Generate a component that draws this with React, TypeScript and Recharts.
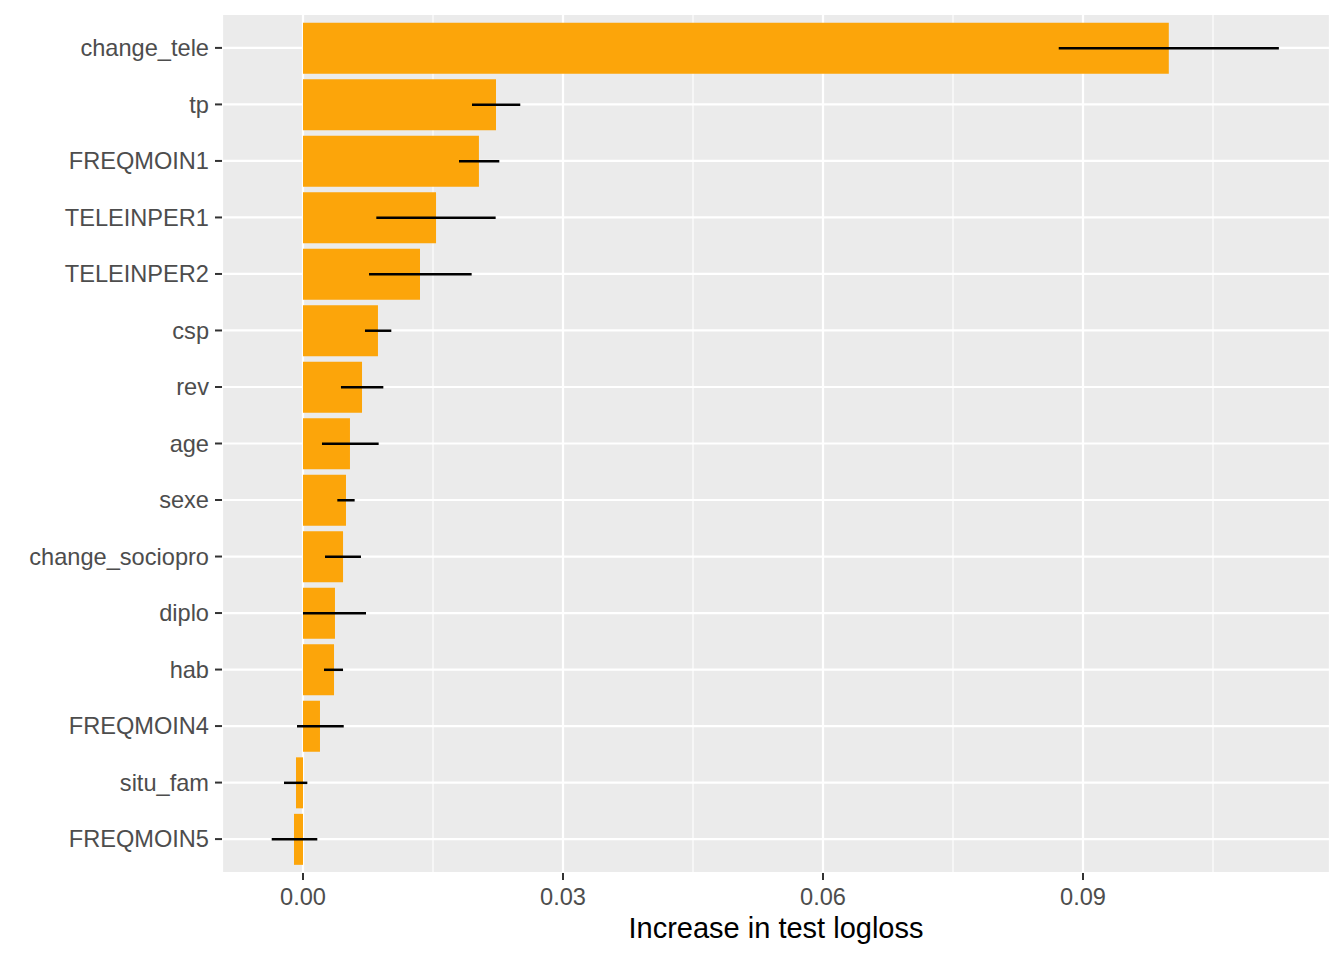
import {
  Bar,
  BarChart,
  CartesianGrid,
  ErrorBar,
  XAxis,
  YAxis,
} from "recharts";

const features = [
  "change_tele",
  "tp",
  "FREQMOIN1",
  "TELEINPER1",
  "TELEINPER2",
  "csp",
  "rev",
  "age",
  "sexe",
  "change_sociopro",
  "diplo",
  "hab",
  "FREQMOIN4",
  "situ_fam",
  "FREQMOIN5",
];
const importance = [
  0.0999, 0.02227, 0.0203, 0.01535, 0.0135, 0.00865, 0.00681, 0.00542, 0.00496,
  0.00462, 0.00369, 0.00358, 0.00196, -0.00081, -0.00104,
];
const lower = [
  0.0872, 0.0195, 0.018, 0.00846, 0.00762, 0.00715, 0.00438, 0.00219, 0.00396,
  0.00254, 0.0, 0.00242, -0.00069, -0.00219, -0.00361,
];
const upper = [
  0.1126, 0.02507, 0.02265, 0.02223, 0.01946, 0.01019, 0.00927, 0.00873, 0.00596,
  0.00669, 0.00727, 0.00462, 0.0047, 0.0005, 0.00165,
];
const majorTicks = [0, 0.03, 0.06, 0.09];
const minorTicks = [0.015, 0.045, 0.075, 0.105];
const xDomain = [-0.009346, 0.1185];

const rows = features.map((f, i) => ({
  feature: f,
  value: importance[i],
  err: [importance[i] - lower[i], upper[i] - importance[i]],
}));

const tickStyle = { fill: "#4D4D4D", fontSize: 23.6 };

export default function App() {
  return (
    <div
      style={{
        position: "absolute",
        left: 0,
        top: 0,
        width: 1344,
        height: 960,
        background: "#fff",
        fontFamily: '"Liberation Sans", Arial, sans-serif',
      }}
    >
      <BarChart
        width={1344}
        height={960}
        data={rows}
        layout="vertical"
        margin={{ top: 14, right: 14, left: 0, bottom: 0 }}
      >
        <CartesianGrid fill="#EBEBEB" stroke="#FFFFFF" strokeWidth={2.2} />
        <CartesianGrid
          xAxisId="minor"
          horizontal={false}
          stroke="#FFFFFF"
          strokeWidth={1.1}
        />
        <XAxis
          type="number"
          domain={xDomain}
          allowDataOverflow
          ticks={majorTicks}
          tickFormatter={(v) => Number(v).toFixed(2)}
          height={87}
          tick={tickStyle}
          tickSize={7}
          tickMargin={8}
          tickLine={{ stroke: "#333333", strokeWidth: 2 }}
          axisLine={false}
          label={{
            value: "Increase in test logloss",
            position: "insideBottom",
            offset: 22,
            fill: "#000000",
            fontSize: 29,
          }}
        />
        <XAxis
          xAxisId="minor"
          type="number"
          domain={xDomain}
          allowDataOverflow
          ticks={minorTicks}
          hide
        />
        <YAxis
          type="category"
          dataKey="feature"
          width={222}
          padding={{ top: 5.65, bottom: 5.65 }}
          tick={tickStyle}
          tickSize={7}
          tickMargin={6}
          tickLine={{ stroke: "#333333", strokeWidth: 2 }}
          axisLine={false}
          interval={0}
        />
        <Bar dataKey="value" fill="#FCA50A" barSize={51} isAnimationActive={false}>
          <ErrorBar
            dataKey="err"
            direction="x"
            width={0}
            stroke="#000000"
            strokeWidth={2.5}
            isAnimationActive={false}
          />
        </Bar>
      </BarChart>
    </div>
  );
}
